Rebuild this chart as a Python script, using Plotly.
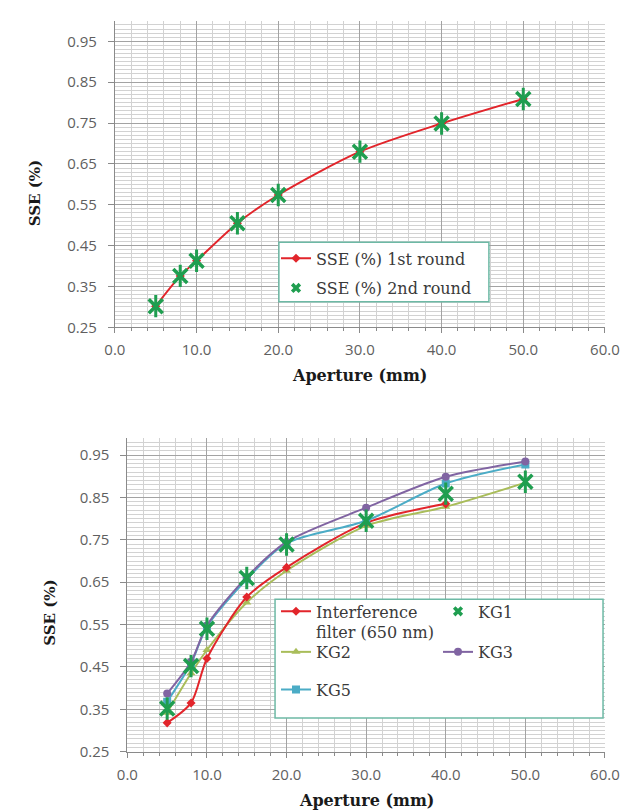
import plotly.graph_objects as go

W, H = 634, 811

# ---------------- data ----------------
# Top chart
aperture_top = [5, 8, 10, 15, 20, 30, 40, 50]
sse_round1 = [0.302, 0.376, 0.413, 0.505, 0.574, 0.680, 0.749, 0.809]
sse_round2 = [0.302, 0.376, 0.413, 0.505, 0.574, 0.680, 0.749, 0.809]

# Bottom chart
aperture_if = [5, 8, 10, 15, 20, 30, 40]
sse_if = [0.318, 0.365, 0.470, 0.615, 0.685, 0.790, 0.835]
aperture_kg = [5, 8, 10, 15, 20, 30, 40, 50]
sse_kg1 = [0.352, 0.452, 0.540, 0.660, 0.739, 0.795, 0.859, 0.887]
sse_kg2 = [0.342, 0.435, 0.490, 0.602, 0.677, 0.783, 0.828, 0.885]
sse_kg3 = [0.387, 0.462, 0.548, 0.662, 0.745, 0.826, 0.899, 0.935]
sse_kg5 = [0.368, 0.458, 0.545, 0.657, 0.742, 0.795, 0.883, 0.928]

x_tick_vals = [0, 10, 20, 30, 40, 50, 60]
y_tick_vals = [0.25, 0.35, 0.45, 0.55, 0.65, 0.75, 0.85, 0.95]

RED = "#e2252b"
GREEN = "#1f9e50"
OLIVE = "#a9bd5a"
PURPLE = "#8064a2"
AQUA = "#4bacc6"
BOX = "#6db9a5"


def px(x):
    return x / W


def py(y):
    return 1 - y / H


fig = go.Figure()


def star_traces(xs, ys, xa, ya):
    # Excel-like star marker: an X with a vertical bar through it
    fig.add_trace(go.Scatter(
        x=xs, y=ys, mode="markers", showlegend=False,
        marker=dict(symbol="x-thin-open", size=14, color=GREEN,
                    line=dict(color=GREEN, width=3.5)),
        xaxis=xa, yaxis=ya))
    fig.add_trace(go.Scatter(
        x=xs, y=ys, mode="markers", showlegend=False,
        marker=dict(symbol="line-ns-open", size=16, color=GREEN,
                    line=dict(color=GREEN, width=3)),
        xaxis=xa, yaxis=ya))


# ---------- top chart ----------
fig.add_trace(go.Scatter(
    x=aperture_top, y=sse_round1, mode="lines+markers", name="SSE (%) 1st round",
    line=dict(color=RED, width=2, shape="spline", smoothing=0.8),
    marker=dict(symbol="diamond", size=7, color=RED),
    xaxis="x", yaxis="y", legend="legend"))
star_traces(aperture_top, sse_round2, "x", "y")
fig.add_trace(go.Scatter(
    x=[None], y=[None], mode="markers", name="SSE (%) 2nd round",
    marker=dict(symbol="x", size=9, color=GREEN),
    xaxis="x", yaxis="y", legend="legend2"))

# ---------- bottom chart ----------
fig.add_trace(go.Scatter(
    x=aperture_kg, y=sse_kg2, mode="lines+markers", name="KG2",
    line=dict(color=OLIVE, width=2, shape="spline", smoothing=0.8),
    marker=dict(symbol="triangle-up", size=8, color=OLIVE),
    xaxis="x2", yaxis="y2", legend="legend4", legendrank=3))
fig.add_trace(go.Scatter(
    x=aperture_if, y=sse_if, mode="lines+markers", name="Interference<br>filter (650 nm)",
    line=dict(color=RED, width=2, shape="spline", smoothing=0.8),
    marker=dict(symbol="diamond", size=7, color=RED),
    xaxis="x2", yaxis="y2", legend="legend3", legendrank=1))
fig.add_trace(go.Scatter(
    x=aperture_kg, y=sse_kg5, mode="lines+markers", name="KG5",
    line=dict(color=AQUA, width=2, shape="spline", smoothing=0.8),
    marker=dict(symbol="square", size=8, color=AQUA),
    xaxis="x2", yaxis="y2", legend="legend5"))
fig.add_trace(go.Scatter(
    x=aperture_kg, y=sse_kg3, mode="lines+markers", name="KG3",
    line=dict(color=PURPLE, width=2, shape="spline", smoothing=0.8),
    marker=dict(symbol="circle", size=8, color=PURPLE),
    xaxis="x2", yaxis="y2", legend="legend4", legendrank=4))
star_traces(aperture_kg, sse_kg1, "x2", "y2")
fig.add_trace(go.Scatter(
    x=[None], y=[None], mode="markers", name="KG1",
    marker=dict(symbol="x", size=9, color=GREEN),
    xaxis="x2", yaxis="y2", legend="legend3", legendrank=2))

tickfont = dict(family="Open Sans", size=15, color="#5f5f5f")


def xaxis_cfg(domain, anchor):
    return dict(
        domain=domain, anchor=anchor, range=[0, 60],
        tickmode="array", tickvals=x_tick_vals,
        ticktext=[f"{v:.1f}" for v in x_tick_vals],
        showgrid=True, gridcolor="#a3a3a3", gridwidth=1,
        minor=dict(dtick=2, tick0=0, showgrid=True, gridcolor="#d2d2d2",
                   ticks="outside", ticklen=3, tickcolor="#8a8a8a"),
        ticks="outside", ticklen=5, tickcolor="#8a8a8a",
        showline=True, linecolor="#8a8a8a", linewidth=1,
        zeroline=False, tickfont=tickfont, ticklabelstandoff=4,
    )


def yaxis_cfg(domain, anchor, rng):
    return dict(
        domain=domain, anchor=anchor, range=rng,
        tickmode="array", tickvals=y_tick_vals,
        ticktext=[f"{v:.2f}" for v in y_tick_vals],
        showgrid=True, gridcolor="#a3a3a3", gridwidth=1,
        minor=dict(dtick=0.01, tick0=0.25, showgrid=True, gridcolor="#d2d2d2"),
        ticks="outside", ticklen=6, tickcolor="#8a8a8a",
        showline=True, linecolor="#8a8a8a", linewidth=1,
        zeroline=False, tickfont=tickfont, ticklabelstandoff=8,
    )


legend_font = dict(family="DejaVu Serif", size=16, color="#3a3a3a")


def leg(xpix, ycenter, orientation="v", entrywidth=None, valign="middle"):
    d = dict(x=px(xpix), y=py(ycenter - 16), xanchor="left", yanchor="top",
             bgcolor="rgba(0,0,0,0)", borderwidth=0, font=legend_font,
             orientation=orientation, valign=valign, itemclick=False,
             itemdoubleclick=False)
    if entrywidth is not None:
        d["entrywidth"] = entrywidth
        d["entrywidthmode"] = "pixels"
    return d


fig.update_layout(
    width=W, height=H,
    margin=dict(l=0, r=0, t=0, b=0),
    paper_bgcolor="white", plot_bgcolor="white",
    xaxis=xaxis_cfg([px(100), px(611)], "y"),
    yaxis=yaxis_cfg([py(323), py(13)], "x", [0.25, 1.0]),
    xaxis2=xaxis_cfg([px(113), px(611)], "y2"),
    yaxis2=yaxis_cfg([py(752), py(435)], "x2", [0.25, 0.99]),
    legend=leg(268, 252),
    legend2=leg(268, 282),
    legend3=leg(268, 609, "h", 117, "top"),
    legend4=leg(268, 650, "h", 117),
    legend5=leg(268, 688, "h", 117),
    shapes=[
        dict(type="rect", xref="paper", yref="paper",
             x0=px(271), x1=px(490), y0=py(297), y1=py(237),
             fillcolor="white", line=dict(color=BOX, width=1.5), layer="above"),
        dict(type="rect", xref="paper", yref="paper",
             x0=px(267), x1=px(609), y0=py(718), y1=py(598),
             fillcolor="white", line=dict(color=BOX, width=1.5), layer="above"),
    ],
    annotations=[
        dict(text="<b>SSE (%)</b>", x=px(17), y=py(187), xref="paper", yref="paper",
             textangle=-90, showarrow=False, xanchor="center", yanchor="middle",
             font=dict(family="DejaVu Serif", size=15, color="#1a1a1a")),
        dict(text="<b>SSE (%)</b>", x=px(33), y=py(612), xref="paper", yref="paper",
             textangle=-90, showarrow=False, xanchor="center", yanchor="middle",
             font=dict(family="DejaVu Serif", size=15, color="#1a1a1a")),
        dict(text="<b>Aperture (mm)</b>", x=px(355), y=py(372), xref="paper", yref="paper",
             showarrow=False, xanchor="center", yanchor="middle",
             font=dict(family="DejaVu Serif", size=16, color="#1a1a1a")),
        dict(text="<b>Aperture (mm)</b>", x=px(362), y=py(801), xref="paper", yref="paper",
             showarrow=False, xanchor="center", yanchor="middle",
             font=dict(family="DejaVu Serif", size=16, color="#1a1a1a")),
    ],
    showlegend=True,
)

fig.write_html("out.html")
